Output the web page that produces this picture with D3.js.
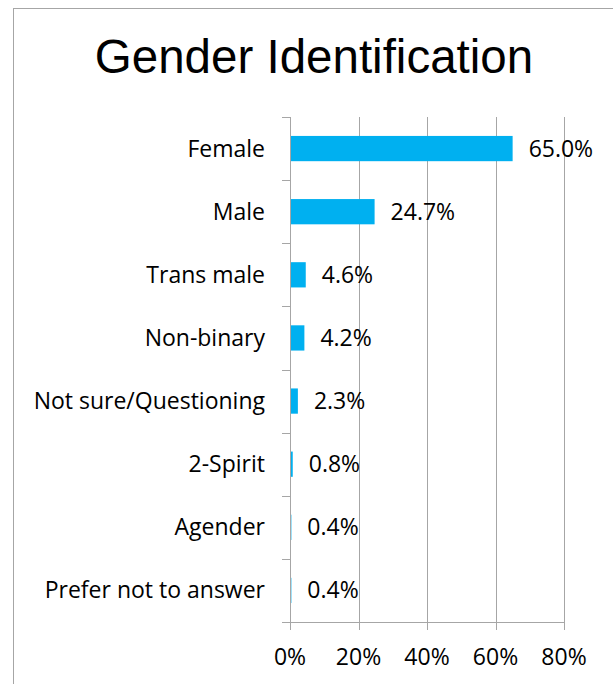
<!DOCTYPE html>
<html>
<head>
<meta charset="utf-8">
<script src="https://cdnjs.cloudflare.com/ajax/libs/d3/7.8.5/d3.min.js"></script>
<style>
  body { margin: 0; background: #fff; }
  svg { display: block; }
</style>
</head>
<body>
<div id="chart"></div>
<script>
// Chart data
const categories = ["Female", "Male", "Trans male", "Non-binary", "Not sure/Questioning", "2-Spirit", "Agender", "Prefer not to answer"];
const values = [65.0, 24.7, 4.6, 4.2, 2.3, 0.8, 0.4, 0.4];
const xTicks = [0, 20, 40, 60, 80];

const W = 613, H = 684;
const margin = { top: 117, right: 49, bottom: 62, left: 290 };
const width = W - margin.left - margin.right;
const height = H - margin.top - margin.bottom;
const font = "'Open Sans', sans-serif";
const fs = "23px";

const svg = d3.select("#chart")
  .append("svg")
  .attr("width", W)
  .attr("height", H);

// outer chart border
svg.append("rect")
  .attr("x", 13.5).attr("y", 8.5)
  .attr("width", 640).attr("height", 700)
  .attr("fill", "none")
  .attr("stroke", "#a6a6a6");

// title
svg.append("text")
  .attr("x", 314)
  .attr("y", 73)
  .attr("text-anchor", "middle")
  .style("font-family", "'Liberation Sans', Arial, sans-serif")
  .style("font-size", "47.5px")
  .attr("fill", "#000")
  .text("Gender Identification");

const g = svg.append("g")
  .attr("transform", `translate(${margin.left},${margin.top})`);

const x = d3.scaleLinear().domain([0, 80]).range([0, width]);
const y = d3.scaleBand().domain(categories).range([0, height]).paddingInner(0.6).paddingOuter(0.3);

// gridlines
g.append("g")
  .selectAll("line")
  .data(xTicks.slice(1))
  .enter().append("line")
  .attr("x1", d => Math.round(x(d)) + 0.5)
  .attr("x2", d => Math.round(x(d)) + 0.5)
  .attr("y1", 0)
  .attr("y2", height + 8)
  .attr("stroke", "#a6a6a6");

// bars
g.append("g")
  .selectAll("rect")
  .data(categories)
  .enter().append("rect")
  .attr("x", 0)
  .attr("y", d => y(d))
  .attr("width", (d, i) => x(values[i]))
  .attr("height", y.bandwidth())
  .attr("fill", "#00b0f0");

// value labels
g.append("g")
  .selectAll("text")
  .data(categories)
  .enter().append("text")
  .attr("x", (d, i) => x(values[i]) + 16)
  .attr("y", d => y(d) + y.bandwidth() / 2)
  .attr("dy", "0.35em")
  .style("font-family", font)
  .style("font-size", fs)
  .attr("fill", "#000")
  .text((d, i) => values[i].toFixed(1) + "%");

// category axis
const step = y.step();
const bounds = d3.range(categories.length + 1).map(i => i * step);
const yAxis = g.append("g");
yAxis.append("line")
  .attr("x1", 0.5).attr("x2", 0.5)
  .attr("y1", 0).attr("y2", height + 8)
  .attr("stroke", "#a6a6a6");
yAxis.selectAll(".tick")
  .data(bounds)
  .enter().append("line")
  .attr("x1", -8).attr("x2", 0)
  .attr("y1", d => Math.round(d) + 0.5)
  .attr("y2", d => Math.round(d) + 0.5)
  .attr("stroke", "#a6a6a6");
yAxis.selectAll("text")
  .data(categories)
  .enter().append("text")
  .attr("x", -25)
  .attr("y", d => y(d) + y.bandwidth() / 2)
  .attr("dy", "0.35em")
  .attr("text-anchor", "end")
  .style("font-family", font)
  .style("font-size", fs)
  .attr("fill", "#000")
  .text(d => d);

// value axis
const xAxis = g.append("g");
xAxis.append("line")
  .attr("x1", 0).attr("x2", x(80) + 0.5)
  .attr("y1", Math.round(height) + 0.5).attr("y2", Math.round(height) + 0.5)
  .attr("stroke", "#a6a6a6");
xAxis.selectAll("text")
  .data(xTicks)
  .enter().append("text")
  .attr("x", d => x(d))
  .attr("y", height + 35)
  .attr("dy", "0.35em")
  .attr("text-anchor", "middle")
  .style("font-family", font)
  .style("font-size", fs)
  .attr("fill", "#000")
  .text(d => d + "%");
</script>
</body>
</html>
